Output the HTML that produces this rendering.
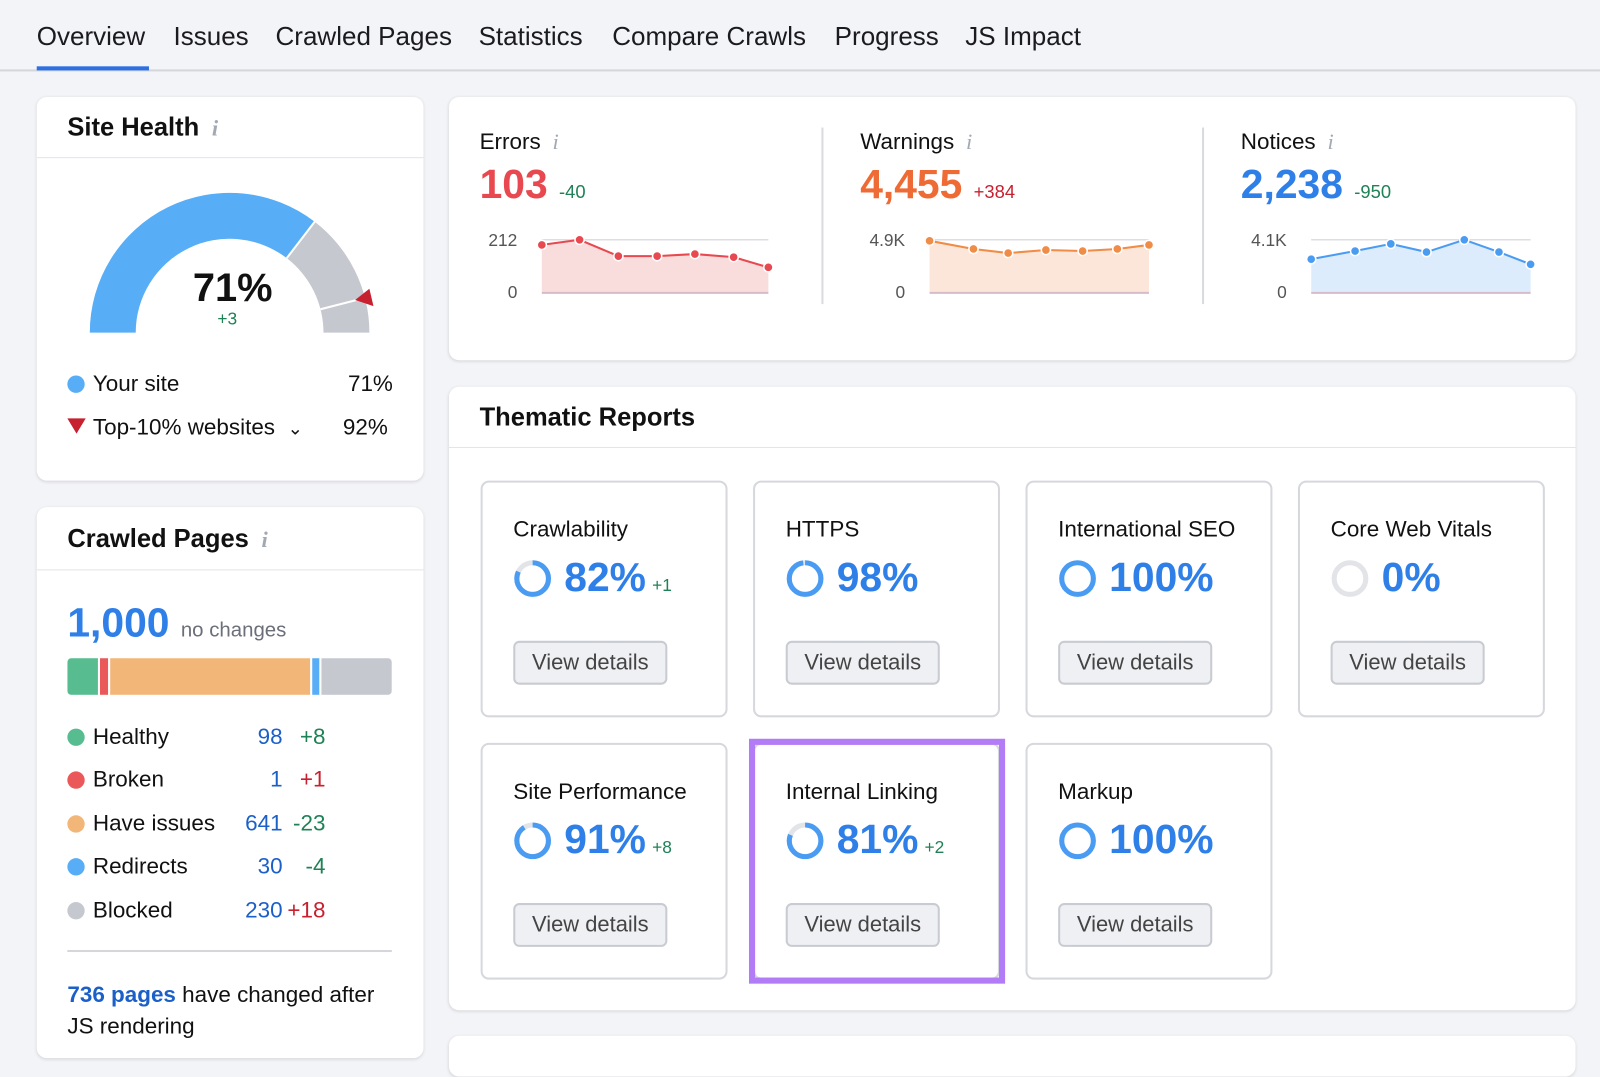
<!DOCTYPE html>
<html><head><meta charset="utf-8">
<style>
html,body{margin:0;padding:0;background:#f3f4f8;overflow:hidden;width:1600px;height:1041px;}
#w{position:absolute;left:0;top:0;width:1568px;height:1021px;transform:scale(1.0204);transform-origin:0 0;font-family:"Liberation Sans",sans-serif;color:#111;}
.a{position:absolute;white-space:nowrap;}
.card{position:absolute;background:#fff;border-radius:10px;box-shadow:0 1px 3px rgba(0,0,0,.12);}
.tab{position:absolute;top:22px;font-size:25.5px;color:#1b1b1f;}
.h{font-size:25px;font-weight:bold;}
.i{font-style:italic;color:#a4a8b4;font-family:"Liberation Serif",serif;font-size:22px;}
.tb{position:absolute;background:#fff;border:2px solid #d6d8de;border-radius:8px;width:238px;height:228px;}
.tb .t{position:absolute;left:30px;top:33px;font-size:22px;}
.tb .p{position:absolute;left:80px;top:71px;font-size:40px;font-weight:bold;color:#2e7fe8;}
.tb .d{font-size:17px;color:#1f8156;font-weight:normal;margin-left:6px;}
.tb .btn{position:absolute;left:30px;top:155px;width:147px;height:39px;border:2px solid #c8cbd2;border-radius:6px;background:#eff0f3;font-size:21.5px;color:#444;text-align:center;line-height:39px;}
.tb svg{position:absolute;left:30px;top:75px;}
.lg{position:absolute;left:66px;font-size:22px;}
.dot{display:inline-block;width:17px;height:17px;border-radius:50%;vertical-align:-2px;margin-right:8px;}
.n{position:absolute;font-size:22px;color:#1b60c9;text-align:right;width:60px;}
.c{position:absolute;font-size:22px;text-align:right;width:42px;}
</style></head><body><div id="w">
<div class="tab" style="left:36px">Overview</div>
<div class="tab" style="left:170px">Issues</div>
<div class="tab" style="left:270px">Crawled Pages</div>
<div class="tab" style="left:469px">Statistics</div>
<div class="tab" style="left:600px">Compare Crawls</div>
<div class="tab" style="left:818px">Progress</div>
<div class="tab" style="left:946px">JS Impact</div>
<div class="a" style="left:0;top:68px;width:1568px;height:2px;background:#d4d6dc"></div>
<div class="a" style="left:36px;top:65px;width:110px;height:4px;background:#2c6fe0"></div>

<div class="card" style="left:36px;top:95px;width:379px;height:376px">
 <div class="a h" style="left:30px;top:16px">Site Health <span class="i">&nbsp;i</span></div>
 <div class="a" style="left:0;top:59px;width:379px;height:1px;background:#e2e4e8"></div>
</div>
<svg class="a" style="left:0;top:0" width="420" height="480">
 <path d="M88,326 A137,137 0 0 1 308.4,217.3 L281,253 A92,92 0 0 0 133,326 Z" fill="#57aef6"/>
 <path d="M308.4,217.3 A137,137 0 0 1 362,326 L317,326 A92,92 0 0 0 281,253 Z" fill="#c5c8cf"/>
 <line x1="308.4" y1="217.3" x2="281" y2="253" stroke="#fff" stroke-width="2"/>
 <line x1="357.7" y1="291.9" x2="314.1" y2="303.1" stroke="#fff" stroke-width="2"/>
 <polygon points="348,294 362,283 366,300" fill="#c7202f"/>
</svg>
<div class="a" style="left:189px;top:261px;font-size:39px;font-weight:bold">71%</div>
<div class="a" style="left:213px;top:303px;font-size:17px;color:#1f8156">+3</div>
<div class="lg" style="top:363px"><span class="dot" style="background:#57aef6"></span>Your site</div>
<div class="a" style="left:341px;top:363px;font-size:22px">71%</div>
<div class="lg" style="top:406px"><span style="display:inline-block;width:0;height:0;border-left:9px solid transparent;border-right:9px solid transparent;border-top:15px solid #c7202f;margin-right:7px;vertical-align:1px"></span>Top-10% websites &nbsp;<span style="font-size:18px">&#8964;</span></div>
<div class="a" style="left:336px;top:406px;font-size:22px">92%</div>

<div class="card" style="left:36px;top:497px;width:379px;height:540px">
 <div class="a h" style="left:30px;top:17px">Crawled Pages <span class="i">&nbsp;i</span></div>
 <div class="a" style="left:0;top:61px;width:379px;height:1px;background:#e2e4e8"></div>
</div>
<div class="a" style="left:66px;top:589px;font-size:40px;font-weight:bold;color:#2e7fe8">1,000 <span style="font-size:20px;color:#6b6f7a;font-weight:normal">no changes</span></div>
<div class="a" style="left:66px;top:645px;width:318px;height:36px;border-radius:4px;overflow:hidden;display:flex">
 <div style="width:30px;background:#57bd90"></div><div style="width:2px;background:#fff"></div>
 <div style="width:8px;background:#ea5859"></div><div style="width:2px;background:#fff"></div>
 <div style="width:196px;background:#f3b679"></div><div style="width:2px;background:#fff"></div>
 <div style="width:7px;background:#57aef6"></div><div style="width:2px;background:#fff"></div>
 <div style="flex:1;background:#c5c8cf"></div>
</div>
<div class="lg" style="top:709px"><span class="dot" style="background:#57bd90"></span>Healthy</div>
<div class="lg" style="top:751px"><span class="dot" style="background:#ea5859"></span>Broken</div>
<div class="lg" style="top:794px"><span class="dot" style="background:#f3b679"></span>Have issues</div>
<div class="lg" style="top:836px"><span class="dot" style="background:#57aef6"></span>Redirects</div>
<div class="lg" style="top:879px"><span class="dot" style="background:#c5c8cf"></span>Blocked</div>
<div class="n" style="left:217px;top:709px">98</div><div class="c" style="left:277px;top:709px;color:#1f8156">+8</div>
<div class="n" style="left:217px;top:751px">1</div><div class="c" style="left:277px;top:751px;color:#c7202f">+1</div>
<div class="n" style="left:217px;top:794px">641</div><div class="c" style="left:277px;top:794px;color:#1f8156">-23</div>
<div class="n" style="left:217px;top:836px">30</div><div class="c" style="left:277px;top:836px;color:#1f8156">-4</div>
<div class="n" style="left:217px;top:879px">230</div><div class="c" style="left:277px;top:879px;color:#c7202f">+18</div>
<div class="a" style="left:66px;top:931px;width:318px;height:2px;background:#d4d6dc"></div>
<div class="a" style="left:66px;top:959px;font-size:22px;line-height:31px"><b style="color:#1b60c9">736 pages</b> have changed after<br>JS rendering</div>

<div class="card" style="left:440px;top:95px;width:1104px;height:258px"></div>
<div class="a" style="left:805px;top:125px;width:2px;height:173px;background:#d9dbe0"></div>
<div class="a" style="left:1178px;top:125px;width:2px;height:173px;background:#d9dbe0"></div>
<div class="a" style="left:470px;top:126px;font-size:22px">Errors <span class="i">&nbsp;i</span></div>
<div class="a" style="left:843px;top:126px;font-size:22px">Warnings <span class="i">&nbsp;i</span></div>
<div class="a" style="left:1216px;top:126px;font-size:22px">Notices <span class="i">&nbsp;i</span></div>
<div class="a" style="left:470px;top:159px;font-size:40px;font-weight:bold;color:#e8484f">103 <span style="font-size:18px;font-weight:normal;color:#1f8156">-40</span></div>
<div class="a" style="left:843px;top:159px;font-size:40px;font-weight:bold;color:#ee6b35">4,455 <span style="font-size:18px;font-weight:normal;color:#c7202f">+384</span></div>
<div class="a" style="left:1216px;top:159px;font-size:40px;font-weight:bold;color:#2e7fe8">2,238 <span style="font-size:18px;font-weight:normal;color:#1f8156">-950</span></div>
<svg class="a" style="left:0;top:0" width="1568" height="320" font-family="Liberation Sans" font-size="17" fill="#555">
 <text x="507" y="241" text-anchor="end">212</text><text x="507" y="292" text-anchor="end">0</text>
 <text x="887" y="241" text-anchor="end">4.9K</text><text x="887" y="292" text-anchor="end">0</text>
 <text x="1261" y="241" text-anchor="end">4.1K</text><text x="1261" y="292" text-anchor="end">0</text>
 <g stroke="#dcdee3" stroke-width="1.5"><line x1="531" y1="235" x2="753" y2="235"/><line x1="911" y1="235" x2="1126" y2="235"/><line x1="1285" y1="235" x2="1500" y2="235"/></g>
 <polygon points="531,240 568,235 606,251 644,251 681,249 719,252 753,262 753,287 531,287" fill="#f9dcdc"/>
 <polyline points="531,240 568,235 606,251 644,251 681,249 719,252 753,262" fill="none" stroke="#e8484f" stroke-width="2"/>
 <g fill="#e8484f" stroke="#fff" stroke-width="1.5"><circle cx="531" cy="240" r="4.5"/><circle cx="568" cy="235" r="4.5"/><circle cx="606" cy="251" r="4.5"/><circle cx="644" cy="251" r="4.5"/><circle cx="681" cy="249" r="4.5"/><circle cx="719" cy="252" r="4.5"/><circle cx="753" cy="262" r="4.5"/></g>
 <polygon points="911,236 954,244 988,248 1025,245 1061,246 1095,244 1126,240 1126,287 911,287" fill="#fce6d9"/>
 <polyline points="911,236 954,244 988,248 1025,245 1061,246 1095,244 1126,240" fill="none" stroke="#f08c45" stroke-width="2"/>
 <g fill="#f08c45" stroke="#fff" stroke-width="1.5"><circle cx="911" cy="236" r="4.5"/><circle cx="954" cy="244" r="4.5"/><circle cx="988" cy="248" r="4.5"/><circle cx="1025" cy="245" r="4.5"/><circle cx="1061" cy="246" r="4.5"/><circle cx="1095" cy="244" r="4.5"/><circle cx="1126" cy="240" r="4.5"/></g>
 <polygon points="1285,254 1328,246 1363,239 1398,247 1435,235 1469,247 1500,259 1500,287 1285,287" fill="#dcecfc"/>
 <polyline points="1285,254 1328,246 1363,239 1398,247 1435,235 1469,247 1500,259" fill="none" stroke="#4a9cf3" stroke-width="2"/>
 <g fill="#4a9cf3" stroke="#fff" stroke-width="1.5"><circle cx="1285" cy="254" r="4.5"/><circle cx="1328" cy="246" r="4.5"/><circle cx="1363" cy="239" r="4.5"/><circle cx="1398" cy="247" r="4.5"/><circle cx="1435" cy="235" r="4.5"/><circle cx="1469" cy="247" r="4.5"/><circle cx="1500" cy="259" r="4.5"/></g>
 <g stroke="#d6bcc8" stroke-width="2"><line x1="531" y1="287" x2="753" y2="287"/><line x1="911" y1="287" x2="1126" y2="287"/><line x1="1285" y1="287" x2="1500" y2="287"/></g>
</svg>

<div class="card" style="left:440px;top:379px;width:1104px;height:611px">
 <div class="a h" style="left:30px;top:16px">Thematic Reports</div>
 <div class="a" style="left:0;top:59px;width:1104px;height:1px;background:#e2e4e8"></div>
</div>

<div class="tb" style="left:471px;top:471px"><div class="t">Crawlability</div>
<svg width="38" height="38"><circle cx="19" cy="19" r="15.5" fill="none" stroke="#e2e4e8" stroke-width="5"/><circle cx="19" cy="19" r="15.5" fill="none" stroke="#4a9cf3" stroke-width="5" stroke-dasharray="79.9 97.4" transform="rotate(-90 19 19)"/></svg>
<div class="p">82%<span class="d">+1</span></div><div class="btn">View details</div></div>

<div class="tb" style="left:738px;top:471px"><div class="t">HTTPS</div>
<svg width="38" height="38"><circle cx="19" cy="19" r="15.5" fill="none" stroke="#e2e4e8" stroke-width="5"/><circle cx="19" cy="19" r="15.5" fill="none" stroke="#4a9cf3" stroke-width="5" stroke-dasharray="95.4 97.4" transform="rotate(-90 19 19)"/></svg>
<div class="p">98%</div><div class="btn">View details</div></div>

<div class="tb" style="left:1005px;top:471px"><div class="t">International SEO</div>
<svg width="38" height="38"><circle cx="19" cy="19" r="15.5" fill="none" stroke="#4a9cf3" stroke-width="5"/></svg>
<div class="p">100%</div><div class="btn">View details</div></div>

<div class="tb" style="left:1272px;top:471px"><div class="t">Core Web Vitals</div>
<svg width="38" height="38"><circle cx="19" cy="19" r="15.5" fill="none" stroke="#e2e4e8" stroke-width="5"/></svg>
<div class="p">0%</div><div class="btn">View details</div></div>

<div class="tb" style="left:471px;top:728px"><div class="t">Site Performance</div>
<svg width="38" height="38"><circle cx="19" cy="19" r="15.5" fill="none" stroke="#e2e4e8" stroke-width="5"/><circle cx="19" cy="19" r="15.5" fill="none" stroke="#4a9cf3" stroke-width="5" stroke-dasharray="88.6 97.4" transform="rotate(-90 19 19)"/></svg>
<div class="p">91%<span class="d">+8</span></div><div class="btn">View details</div></div>

<div class="tb" style="left:738px;top:728px"><div class="t">Internal Linking</div>
<svg width="38" height="38"><circle cx="19" cy="19" r="15.5" fill="none" stroke="#e2e4e8" stroke-width="5"/><circle cx="19" cy="19" r="15.5" fill="none" stroke="#4a9cf3" stroke-width="5" stroke-dasharray="78.9 97.4" transform="rotate(-90 19 19)"/></svg>
<div class="p">81%<span class="d">+2</span></div><div class="btn">View details</div></div>

<div class="tb" style="left:1005px;top:728px"><div class="t">Markup</div>
<svg width="38" height="38"><circle cx="19" cy="19" r="15.5" fill="none" stroke="#4a9cf3" stroke-width="5"/></svg>
<div class="p">100%</div><div class="btn">View details</div></div>

<div class="a" style="left:734px;top:724px;width:239px;height:228px;border:6px solid #b37cf7"></div>
<div class="card" style="left:440px;top:1015px;width:1104px;height:40px"></div>
</div></body></html>
